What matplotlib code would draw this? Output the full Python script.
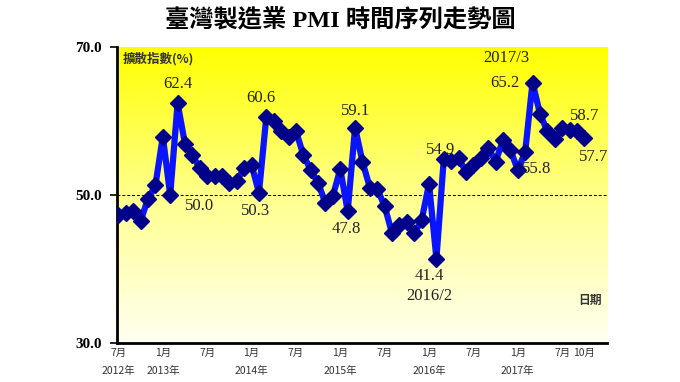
import numpy as np
import matplotlib
matplotlib.use("Agg")
import matplotlib.pyplot as plt
from matplotlib.colors import LinearSegmentedColormap

# ---- data (2012/7 .. 2017/10) ----
pmi = [47.3, 47.6, 47.8, 46.5, 49.5, 51.3,
       57.9, 50.0, 62.4, 56.9, 55.4, 53.6,
       52.6, 52.6, 52.6, 51.6, 51.9, 53.6,
       54.1, 50.3, 60.6, 60.0, 58.7, 57.9,
       58.7, 55.4, 53.4, 51.6, 48.9, 49.9,
       53.5, 47.8, 59.1, 54.5, 51.0, 50.8,
       48.5, 44.8, 46.0, 46.3, 44.8, 46.6,
       51.5, 41.4, 54.9, 54.6, 55.0, 53.1,
       54.1, 55.0, 56.4, 54.5, 57.4, 56.1,
       53.4, 55.8, 65.2, 61.0, 58.6, 57.6,
       59.0, 58.8, 58.7, 57.7]
month_idx = list(range(len(pmi)))

month_tick_pos = [0, 6, 12, 18, 24, 30, 36, 42, 48, 54, 60, 63]
month_tick_lab = ["7月", "1月", "7月", "1月", "7月", "1月", "7月", "1月", "7月", "1月", "7月", "10月"]
year_tick_pos = [0, 6, 18, 30, 42, 54]
year_tick_lab = ["2012年", "2013年", "2014年", "2015年", "2016年", "2017年"]
y_ticks = [30, 50, 70]
y_tick_lab = ["30.0", "50.0", "70.0"]

# annotations: (index, text, dx in months, dy in value units)
annots = [
    (8, "62.4", 0.0, 2.6),
    (7, "50.0", 4.0, -1.5),
    (20, "60.6", -0.7, 2.5),
    (19, "50.3", -0.4, -2.4),
    (32, "59.1", 0.0, 2.3),
    (31, "47.8", -0.2, -2.4),
    (43, "41.4", -1.0, -2.4),
    (44, "54.9", -0.5, 1.2),
    (56, "65.2", -3.8, 0.0),
    (55, "55.8", 1.5, -2.3),
    (61, "58.7", 2.0, 1.9),
    (63, "57.7", 1.2, -2.5),
]

cjk = ["Noto Sans CJK TC", "DejaVu Sans"]
serif = ["Liberation Serif", "Noto Sans CJK TC"]

fig = plt.figure(figsize=(6.8, 3.82), dpi=100)
ax = fig.add_axes([0.172, 0.102, 0.721, 0.775])

x0, x1 = -0.2, 66.1
ax.set_xlim(x0, x1)
ax.set_ylim(30, 70)

# gradient background (yellow at top -> near white at bottom)
grad = np.linspace(0, 1, 256).reshape(-1, 1)
cmap = LinearSegmentedColormap.from_list("yg", [(1, 1, 0.0), (1, 1, 0.55), (1, 1, 0.95)])
ax.imshow(grad, extent=[x0, x1, 30, 70], origin="upper", aspect="auto", cmap=cmap, zorder=0)

ax.axhline(50, color="black", lw=0.7, ls=(0, (3, 2)), zorder=1)

ax.plot(month_idx, pmi, color="#0a14ff", lw=4.5, marker="D", markersize=8,
        markerfacecolor="#00008b", markeredgecolor="#00008b", zorder=3)

for i, t, dx, dy in annots:
    ax.text(i + dx, pmi[i] + dy, t, ha="center", va="center",
            fontsize=12, family=serif, color="#222222", zorder=4)
ax.text(43 - 1.0, pmi[43] - 5.1, "2016/2", ha="center", va="center",
        fontsize=12, family=serif, color="#222222")
ax.text(56 - 3.6, pmi[56] + 3.3, "2017/3", ha="center", va="center",
        fontsize=12, family=serif, color="#222222")

# spines
for s in ["top", "right"]:
    ax.spines[s].set_visible(False)
ax.spines["left"].set_linewidth(2)
ax.spines["bottom"].set_linewidth(2)

ax.set_yticks(y_ticks)
ax.set_yticklabels(y_tick_lab, family=serif, fontweight="bold", fontsize=11)
ax.tick_params(axis="y", length=5, width=1.2, direction="out", pad=6)

ax.set_xticks([])
for p, l in zip(month_tick_pos, month_tick_lab):
    ax.text(p, 28.7, l, ha="center", va="center", fontsize=7.5, family=cjk,
            color="#333333", transform=ax.transData, clip_on=False)
for p, l in zip(year_tick_pos, year_tick_lab):
    ax.text(p, 26.2, l, ha="center", va="center", fontsize=7.5, family=cjk,
            color="#333333", transform=ax.transData, clip_on=False)

ax.text(0.012, 0.96, "擴散指數(%)", transform=ax.transAxes, ha="left", va="center",
        fontsize=9, fontweight="bold", family=cjk, color="#333333")
ax.text(0.965, 0.145, "日期", transform=ax.transAxes, ha="center", va="center",
        fontsize=8.5, fontweight="bold", family=cjk, color="#333333")

fig.text(0.5, 0.948, "臺灣製造業 PMI 時間序列走勢圖", ha="center", va="center",
         fontsize=17.5, fontweight="bold", family=serif, color="black")

fig.savefig("out.png", dpi=100, facecolor="white")
